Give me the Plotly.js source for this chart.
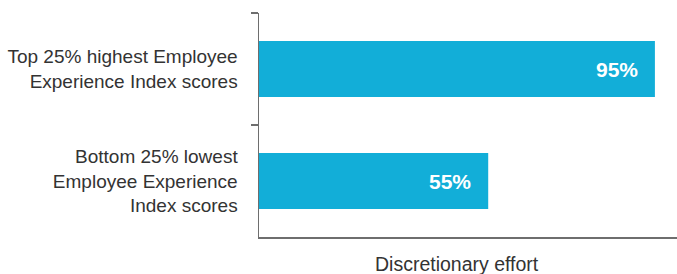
<!DOCTYPE html>
<html>
<head>
<meta charset="utf-8">
<script src="https://cdn.plot.ly/plotly-3.0.1.min.js"></script>
<style>html,body{margin:0;padding:0;background:#fff;}#chart{width:677px;height:274px;}</style>
</head>
<body>
<div id="chart"></div>
<script>
const categories = [
  "Top 25% highest Employee<br>Experience Index scores",
  "Bottom 25% lowest<br>Employee Experience<br>Index scores"
];
const values = [95, 55];
const valueLabels = ["95%", "55%"];
const xTitle = "Discretionary effort";

const barColor = "#12aed8";
const axisColor = "#6e6e6e";

const trace = {
  type: "bar",
  orientation: "h",
  x: values,
  y: categories,
  marker: {color: barColor},
  hoverinfo: "none"
};

const annotations = values.map((v, i) => ({
  x: v, y: categories[i], xref: "x", yref: "y",
  text: valueLabels[i], showarrow: false,
  xanchor: "right", yanchor: "middle", xshift: -15,
  font: {family: "Liberation Sans, Arial, sans-serif", size: 21, color: "#ffffff", weight: "bold"}
}));
annotations.push({
  x: 0.474, y: 0, xref: "paper", yref: "paper", yanchor: "top", yshift: -14,
  text: xTitle, showarrow: false,
  font: {family: "Liberation Sans, Arial, sans-serif", size: 19.5, color: "#333333"}
});

const layout = {
  width: 677, height: 274,
  margin: {l: 259, r: 0, t: 13, b: 37},
  paper_bgcolor: "#ffffff", plot_bgcolor: "#ffffff",
  showlegend: false,
  bargap: 0.5,
  font: {family: "Liberation Sans, Arial, sans-serif", color: "#333333", size: 19},
  xaxis: {
    range: [0, 100.3], showgrid: false, zeroline: false,
    showline: true, linecolor: axisColor, linewidth: 1.5,
    showticklabels: false, ticks: "", fixedrange: true
  },
  yaxis: {
    type: "category", autorange: "reversed",
    showgrid: false, zeroline: false,
    showline: true, linecolor: axisColor, linewidth: 1.5,
    ticks: "outside", tickson: "boundaries", ticklen: 7, tickcolor: axisColor, tickwidth: 1.5,
    ticklabelstandoff: 16,
    tickfont: {size: 19, color: "#333333"}
  },
  annotations: annotations
};

Plotly.newPlot("chart", [trace], layout, {displayModeBar: false, staticPlot: true});
</script>
</body>
</html>
